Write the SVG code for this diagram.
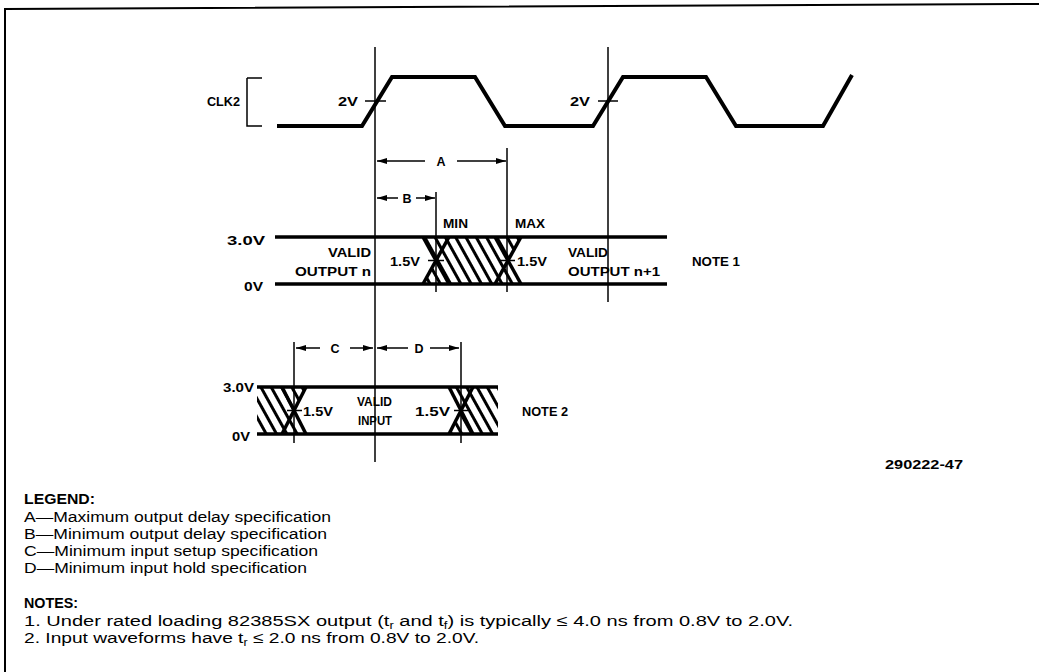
<svg xmlns="http://www.w3.org/2000/svg" width="1039" height="672" viewBox="0 0 1039 672">
<style>
.wave{fill:none;stroke:#000;stroke-width:4;stroke-linejoin:miter}
.lvl{fill:none;stroke:#000;stroke-width:3.5}
.x{fill:none;stroke:#000;stroke-width:3.5}
.ref{fill:none;stroke:#000;stroke-width:1.5}
.tick{fill:none;stroke:#000;stroke-width:1.5}
.dim{fill:none;stroke:#000;stroke-width:1.5;marker-end:url(#ah)}
.lbl{font-family:"Liberation Sans",Arial,sans-serif;font-size:12.5px;font-weight:bold;fill:#000}
.leg{font-family:"Liberation Sans",Arial,sans-serif;font-size:15.5px;fill:#000}
.legb{font-family:"Liberation Sans",Arial,sans-serif;font-size:15.5px;font-weight:bold;fill:#000}
</style>
<defs>
<marker id="ah" viewBox="0 0 10 6" refX="10" refY="3" markerWidth="10" markerHeight="6" markerUnits="userSpaceOnUse" orient="auto"><path d="M0,0 L10,3 L0,6 z" fill="#000"/></marker>
<pattern id="hatch" width="9" height="9" patternUnits="userSpaceOnUse" patternTransform="rotate(-29)"><line x1="4.5" y1="-1" x2="4.5" y2="10" stroke="#000" stroke-width="3"/></pattern>
</defs>
<rect width="1039" height="672" fill="#fff"/>
<g id="frame"><polyline points="5,672 5,9 1039,4" fill="none" stroke="#000" stroke-width="2"/></g>

<g id="clk2">
<polyline class="ref" points="247,78 262,78"/>
<polyline class="ref" points="247,78 247,126 262,126"/>
<text class="lbl" x="207" y="106" textLength="33" lengthAdjust="spacingAndGlyphs">CLK2</text>
<polyline class="wave" points="277,126 362,126 392,77 475,77 505,126 593,126 623,77 706,77 736,126 823,126 852,75"/>
<line class="tick" x1="365" y1="101" x2="386" y2="101"/>
<line class="tick" x1="598" y1="101" x2="618" y2="101"/>
<text class="lbl" x="338" y="106" textLength="20" lengthAdjust="spacingAndGlyphs">2V</text>
<text class="lbl" x="570" y="106" textLength="20" lengthAdjust="spacingAndGlyphs">2V</text>
</g>

<g id="refs">
<line class="ref" x1="375" y1="47" x2="375" y2="462"/>
<line class="ref" x1="608" y1="47" x2="608" y2="302"/>
<line class="ref" x1="507" y1="148" x2="507" y2="292"/>
<line class="ref" x1="436" y1="192" x2="436" y2="292"/>
<line class="ref" x1="294" y1="342" x2="294" y2="443"/>
<line class="ref" x1="461" y1="342" x2="461" y2="443"/>
</g>

<g id="dimensions">
<line class="dim" x1="425" y1="161" x2="377" y2="161"/>
<line class="dim" x1="457" y1="161" x2="506" y2="161"/>
<text class="lbl" x="441" y="166" text-anchor="middle">A</text>
<line class="dim" x1="398" y1="198" x2="377" y2="198"/>
<line class="dim" x1="416" y1="198" x2="435" y2="198"/>
<text class="lbl" x="407" y="203" text-anchor="middle">B</text>
<line class="dim" x1="320" y1="348" x2="296" y2="348"/>
<line class="dim" x1="350" y1="348" x2="373" y2="348"/>
<text class="lbl" x="335" y="353" text-anchor="middle">C</text>
<line class="dim" x1="408" y1="348" x2="377" y2="348"/>
<line class="dim" x1="430" y1="348" x2="459" y2="348"/>
<text class="lbl" x="419" y="353" text-anchor="middle">D</text>
</g>

<g id="output">
<polygon points="423,237 521,237 508,260.5 521,284 423,284 436,260.5" fill="url(#hatch)"/>
<line class="lvl" x1="275" y1="237" x2="667" y2="237"/>
<line class="lvl" x1="275" y1="284" x2="667" y2="284"/>
<line class="x" x1="423" y1="237" x2="449" y2="284"/>
<line class="x" x1="449" y1="237" x2="423" y2="284"/>
<line class="x" x1="495" y1="237" x2="521" y2="284"/>
<line class="x" x1="521" y1="237" x2="495" y2="284"/>
<line class="tick" x1="428" y1="260.5" x2="444" y2="260.5"/>
<line class="tick" x1="500" y1="260.5" x2="515" y2="260.5"/>
<text class="lbl" x="227" y="245" textLength="38" lengthAdjust="spacingAndGlyphs">3.0V</text>
<text class="lbl" x="244" y="291" textLength="19" lengthAdjust="spacingAndGlyphs">0V</text>
<text class="lbl" x="443" y="228" textLength="25" lengthAdjust="spacingAndGlyphs">MIN</text>
<text class="lbl" x="515" y="228" textLength="30" lengthAdjust="spacingAndGlyphs">MAX</text>
<text class="lbl" x="328" y="257" textLength="43" lengthAdjust="spacingAndGlyphs">VALID</text>
<text class="lbl" x="295" y="276" textLength="76" lengthAdjust="spacingAndGlyphs">OUTPUT n</text>
<text class="lbl" x="390" y="266" textLength="30" lengthAdjust="spacingAndGlyphs">1.5V</text>
<text class="lbl" x="517" y="266" textLength="30" lengthAdjust="spacingAndGlyphs">1.5V</text>
<text class="lbl" x="568" y="257" textLength="40" lengthAdjust="spacingAndGlyphs">VALID</text>
<text class="lbl" x="568" y="276" textLength="92" lengthAdjust="spacingAndGlyphs">OUTPUT n+1</text>
<text class="lbl" x="692" y="266" textLength="48" lengthAdjust="spacingAndGlyphs">NOTE 1</text>
</g>

<g id="input">
<polygon points="257,387 306,387 294,410.5 306,434 257,434" fill="url(#hatch)"/>
<polygon points="449,387 498,387 498,434 449,434 461,410.5" fill="url(#hatch)"/>
<line class="lvl" x1="257" y1="387" x2="498" y2="387"/>
<line class="lvl" x1="257" y1="434" x2="498" y2="434"/>
<line class="x" x1="282" y1="387" x2="306" y2="434"/>
<line class="x" x1="306" y1="387" x2="282" y2="434"/>
<line class="x" x1="449" y1="387" x2="473" y2="434"/>
<line class="x" x1="473" y1="387" x2="449" y2="434"/>
<line class="tick" x1="287" y1="410.5" x2="302" y2="410.5"/>
<line class="tick" x1="454" y1="410.5" x2="468" y2="410.5"/>
<text class="lbl" x="223" y="392" textLength="31" lengthAdjust="spacingAndGlyphs">3.0V</text>
<text class="lbl" x="232" y="441" textLength="18" lengthAdjust="spacingAndGlyphs">0V</text>
<text class="lbl" x="303" y="416" textLength="30" lengthAdjust="spacingAndGlyphs">1.5V</text>
<text class="lbl" x="415" y="416" textLength="35" lengthAdjust="spacingAndGlyphs">1.5V</text>
<text class="lbl" x="357" y="406" textLength="35" lengthAdjust="spacingAndGlyphs">VALID</text>
<text class="lbl" x="358" y="425" textLength="34" lengthAdjust="spacingAndGlyphs">INPUT</text>
<text class="lbl" x="522" y="416" textLength="46" lengthAdjust="spacingAndGlyphs">NOTE 2</text>
</g>

<g id="figno">
<text class="lbl" x="885" y="469" textLength="78" lengthAdjust="spacingAndGlyphs">290222-47</text>
</g>

<g id="legend">
<text class="legb" x="24" y="504" textLength="71" lengthAdjust="spacingAndGlyphs">LEGEND:</text>
<text class="leg" x="24" y="522" textLength="307" lengthAdjust="spacingAndGlyphs">A—Maximum output delay specification</text>
<text class="leg" x="24" y="539" textLength="303" lengthAdjust="spacingAndGlyphs">B—Minimum output delay specification</text>
<text class="leg" x="24" y="556" textLength="294" lengthAdjust="spacingAndGlyphs">C—Minimum input setup specification</text>
<text class="leg" x="24" y="573" textLength="283" lengthAdjust="spacingAndGlyphs">D—Minimum input hold specification</text>
<text class="legb" x="24" y="608" textLength="54" lengthAdjust="spacingAndGlyphs">NOTES:</text>
<text class="leg" x="24" y="626" textLength="769" lengthAdjust="spacingAndGlyphs">1. Under rated loading 82385SX output (t<tspan font-size="10" dy="3">r</tspan><tspan dy="-3"> and t</tspan><tspan font-size="10" dy="3">f</tspan><tspan dy="-3">) is typically ≤ 4.0 ns from 0.8V to 2.0V.</tspan></text>
<text class="leg" x="24" y="643" textLength="455" lengthAdjust="spacingAndGlyphs">2. Input waveforms have t<tspan font-size="10" dy="3">r</tspan><tspan dy="-3"> ≤ 2.0 ns from 0.8V to 2.0V.</tspan></text>
</g>
</svg>
